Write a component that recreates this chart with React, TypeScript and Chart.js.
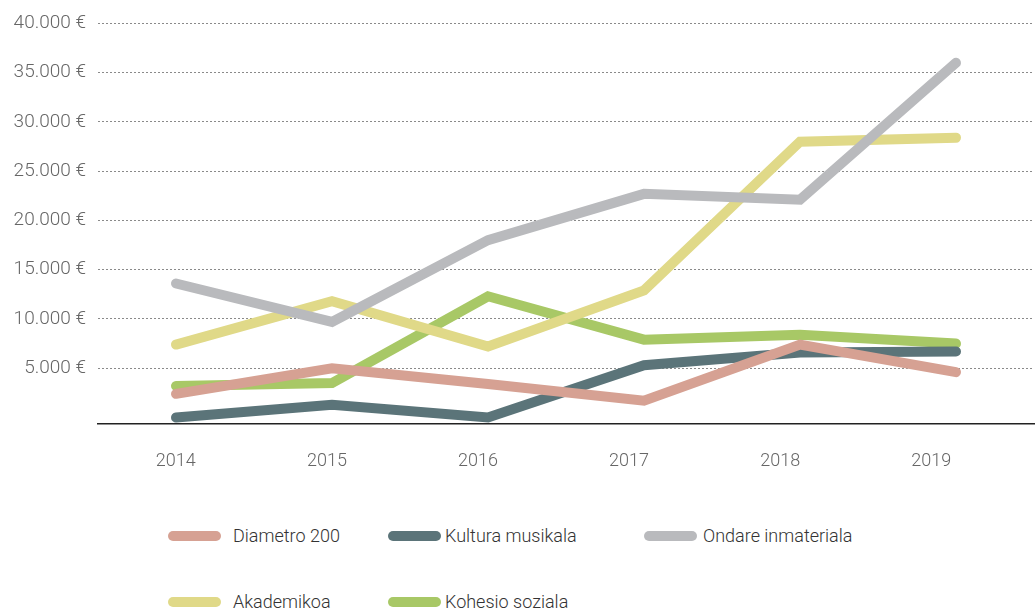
import React, { useEffect, useRef } from "react";
import { Chart, registerables } from "chart.js";

Chart.register(...registerables);

const years = ["2014", "2015", "2016", "2017", "2018", "2019"];
const yTicks = [5000, 10000, 15000, 20000, 25000, 30000, 35000, 40000];

const diametro = [2400, 5000, 3400, 1700, 7400, 4600];
const kultura = [0, 1300, 0, 5300, 6600, 6700];
const ondare = [13600, 9700, 18000, 22700, 22100, 36000];
const akademikoa = [7400, 11800, 7200, 12900, 28000, 28400];
const kohesio = [3200, 3500, 12300, 7900, 8400, 7500];

const seriesNames = ["Diametro 200", "Kultura musikala", "Ondare inmateriala", "Akademikoa", "Kohesio soziala"];
const seriesColors = ["#D6A193", "#5B7479", "#B9BABD", "#E0D988", "#A8C866"];
const seriesData = [diametro, kultura, ondare, akademikoa, kohesio];

const FONT = "Roboto, 'Liberation Sans', sans-serif";

const legendPos = [
  { swatch: 168, text: 233, top: 536 },
  { swatch: 388, text: 445, top: 536 },
  { swatch: 644, text: 703, top: 536 },
  { swatch: 168, text: 233, top: 602 },
  { swatch: 388, text: 445, top: 602 },
];

const fmt = (v: number) => v.toLocaleString("de-DE") + " €";

export default function App() {
  const ref = useRef<HTMLCanvasElement | null>(null);

  useEffect(() => {
    if (!ref.current) return;
    const chart = new Chart(ref.current, {
      type: "line",
      data: {
        labels: years,
        datasets: seriesNames.map((name, i) => ({
          label: name,
          data: seriesData[i],
          borderColor: seriesColors[i],
          backgroundColor: seriesColors[i],
          borderWidth: 10,
          borderCapStyle: "round",
          borderJoinStyle: "miter",
          pointRadius: 0,
          pointHoverRadius: 0,
          tension: 0,
          fill: false,
          xAxisID: "x",
          yAxisID: "y",
          clip: false,
        })),
      },
      options: {
        animation: false,
        responsive: true,
        maintainAspectRatio: false,
        layout: { autoPadding: false, padding: { top: 16, left: 0, right: 2, bottom: 18 } },
        plugins: {
          legend: { display: false },
          tooltip: { enabled: false },
        },
        scales: {
          x: {
            type: "category",
            offset: true,
            display: false,
          },
          xl: {
            type: "linear",
            position: "bottom",
            min: -0.515,
            max: 5.68,
            afterBuildTicks: (scale: any) => {
              scale.ticks = years.map((_, i) => ({ value: i }));
            },
            grid: { display: false, drawTicks: false },
            border: { display: true, color: "#222", width: 1.5 },
            ticks: {
              padding: 27,
              autoSkip: false,
              maxRotation: 0,
              color: "#666",
              font: { family: FONT, size: 18, weight: "300" },
              callback: (v: any) => years[Math.round(Number(v))] ?? "",
            },
          },
          y: {
            type: "linear",
            min: -600,
            max: 40000,
            afterBuildTicks: (scale: any) => {
              scale.ticks = yTicks.map((v) => ({ value: v }));
            },
            afterFit: (scale: any) => {
              scale.width = 98;
            },
            grid: { color: "#8a8a8a", lineWidth: 1, drawTicks: false },
            border: { display: false, dash: [2, 2] },
            ticks: {
              padding: 12,
              color: "#666",
              font: { family: FONT, size: 19, weight: "300" },
              callback: (v: any) => fmt(Number(v)),
            },
          },
        },
      } as any,
    });
    return () => chart.destroy();
  }, []);

  return (
    <div
      style={{
        position: "fixed",
        left: 0,
        top: 0,
        width: 1036,
        height: 612,
        background: "#fff",
        overflow: "hidden",
        fontFamily: FONT,
      }}
    >
      <div style={{ position: "absolute", left: 0, top: 0, width: 1036, height: 517 }}>
        <canvas ref={ref} />
      </div>
      {seriesNames.map((name, i) => (
        <React.Fragment key={name}>
          <div
            style={{
              position: "absolute",
              left: legendPos[i].swatch,
              top: legendPos[i].top - 5,
              width: 53,
              height: 10,
              borderRadius: 5,
              background: seriesColors[i],
            }}
          />
          <div
            style={{
              position: "absolute",
              left: legendPos[i].text,
              top: legendPos[i].top - 12,
              height: 24,
              lineHeight: "24px",
              fontSize: 18,
              fontWeight: 300,
              color: "#333",
              whiteSpace: "nowrap",
            }}
          >
            {name}
          </div>
        </React.Fragment>
      ))}
    </div>
  );
}
